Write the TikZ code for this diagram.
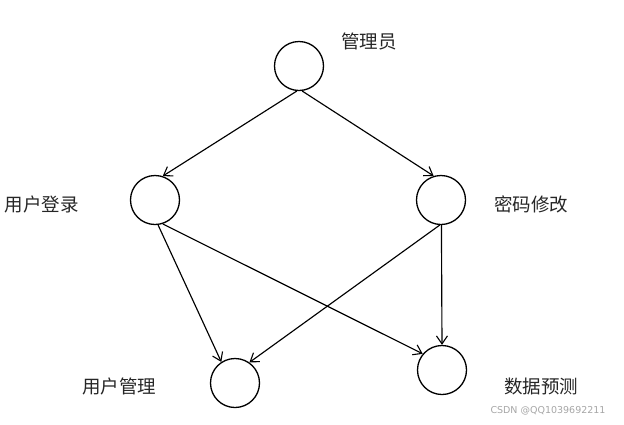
\documentclass[tikz,border=0pt]{standalone}
\usepackage{fontspec}
\newfontfamily\cjk{Noto Sans CJK SC}
\setmainfont{DejaVu Sans}
\usetikzlibrary{arrows.meta}
\begin{document}
\begin{tikzpicture}[x=1pt,y=-1pt,
  st/.style={draw,circle,minimum size=49pt,inner sep=0pt,line width=1.3pt},
  lbl/.style={font=\cjk\fontsize{18.5}{20}\selectfont,inner sep=0pt,text=black!85},
  arr/.style={line width=1.15pt,-{Straight Barb[length=8pt,width=11pt,line width=1.1pt]}}]
\useasboundingbox (0,0) rectangle (624,424);
\node[st] (a) at (299,66) {};
\node[st] (b) at (155,200) {};
\node[st] (c) at (441,200) {};
\node[st] (d) at (235,383) {};
\node[st] (e) at (442,370) {};
\node[lbl] (la) at (369,41) {管理员};
\node[lbl] (lb) at (42,204) {用户登录};
\node[lbl] (lc) at (531,204) {密码修改};
\node[lbl] (ld) at (119,386) {用户管理};
\node[lbl] (le) at (541,386) {数据预测};
\node[font=\fontsize{9.5}{11}\selectfont,text=black!35,inner sep=0pt] (w) at (548,411) {CSDN @QQ1039692211};
\draw[arr] (a.-95) -- (b.72);
\draw[arr] (a.-83) -- (c.107);
\draw[arr] (b.-83) -- (d.123);
\draw[arr] (b.-72) -- (e.140);
\draw[arr] (c.-93) -- (d.55);
\draw[arr] (c.-89) -- (e.90);
\end{tikzpicture}
\end{document}
